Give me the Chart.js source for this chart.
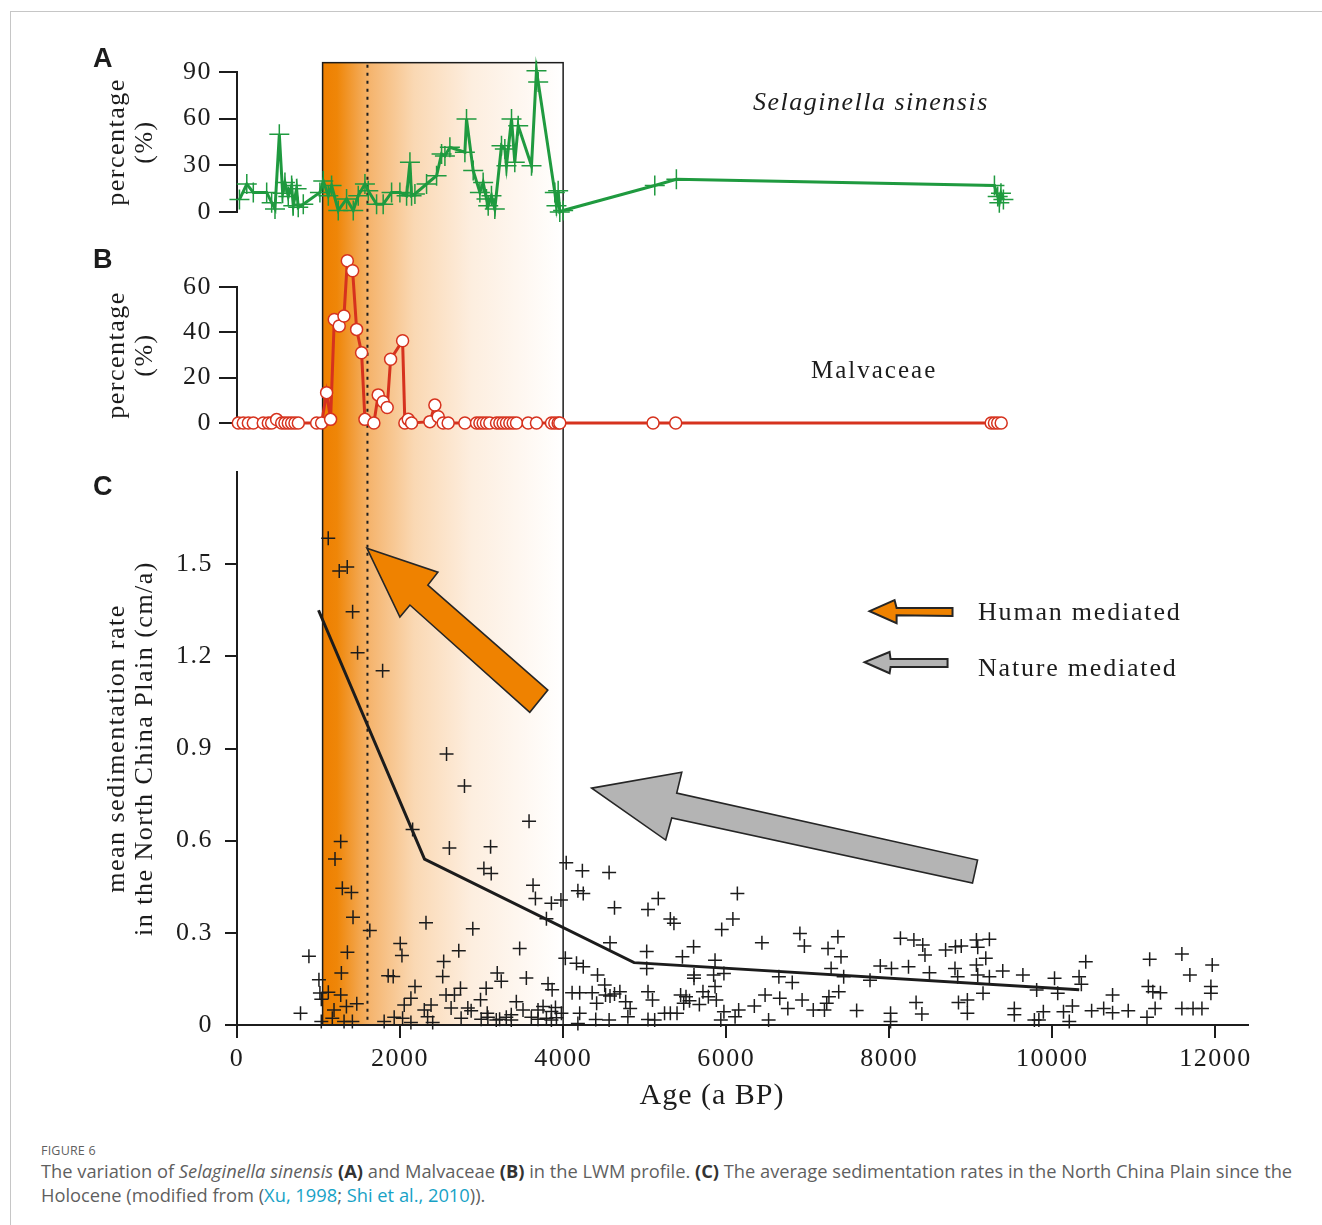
<!DOCTYPE html>
<html>
<head>
<meta charset="utf-8">
<script src="https://cdn.jsdelivr.net/npm/chart.js@4.4.1/dist/chart.umd.min.js"></script>
<style>
  html, body { margin: 0; padding: 0; background: #fff; }
  body { width: 1322px; height: 1225px; position: relative; overflow: hidden; }
  #frame { position: absolute; left: 10px; top: 11px; width: 1320px; height: 1220px;
           border-left: 1.5px solid #c6c6c6; border-top: 1.5px solid #c6c6c6; }
  #chart { position: absolute; left: 0; top: 0; }
  #caption { position: absolute; left: 41px; top: 1143px; font-family: "Open Sans", sans-serif;
             color: #5f5f5f; white-space: nowrap; }
  #caption .fig { font-size: 12.5px; letter-spacing: 0.2px; line-height: 16px; }
  #caption .txt { font-size: 18.3px; line-height: 24px; margin-top: 0px; }
  #caption b { color: #333; }
  #caption .ref { color: #17a2c6; }
</style>
</head>
<body>
<div id="frame"></div>
<canvas id="chart" width="1322" height="1125"></canvas>
<div id="caption">
  <div class="fig">FIGURE 6</div>
  <div class="txt">The variation of <i>Selaginella sinensis</i> <b>(A)</b> and Malvaceae <b>(B)</b> in the LWM profile. <b>(C)</b> The average sedimentation rates in the North China Plain since the<br>Holocene (modified from (<span class="ref">Xu, 1998</span>; <span class="ref">Shi et al., 2010</span>)).</div>
</div>
<script>
// --- tick labels ---
const xTicks = [0, 2000, 4000, 6000, 8000, 10000, 12000];
const yTicksA = [0, 30, 60, 90];
const yTicksB = [0, 20, 40, 60];
const yTicksC = [0, 0.3, 0.6, 0.9, 1.2, 1.5];

// --- A: Selaginella sinensis (%) ---
const selagAge = [30, 120, 200, 364, 425, 466, 519, 560, 588, 629, 670, 690, 731, 751, 813,
  1017, 1058, 1120, 1160, 1242, 1344, 1426, 1487, 1569, 1610, 1712, 1793, 1896, 1998, 2080,
  2121, 2141, 2182, 2325, 2448, 2509, 2550, 2611, 2795, 2815, 2897, 2979, 3019, 3060, 3081,
  3121, 3162, 3244, 3285, 3305, 3367, 3407, 3449, 3612, 3673, 3694, 3898, 3918, 3939, 3959,
  4000, 5124, 5389, 9290, 9330, 9350, 9370, 9400];
const selagPct = [8, 18, 12.6, 12.6, 6, 2, 50, 12, 19, 10, 17, 4, 15, 3, 5,
  12.6, 20, 10.5, 17, 1, 8.4, 1, 10.5, 18, 13.7, 5, 5, 12.6, 12.6, 10.5,
  32, 10.5, 11.6, 18, 23.3, 37.3, 36, 41.6, 38.4, 59.8, 26.6, 12.6, 19, 8.4, 4,
  10.5, 2, 42.6, 40.5, 29.8, 59.8, 32, 55.5, 29.8, 90.8, 83.6, 12.6, 4, 13.7, 0,
  1, 17, 21, 17, 10, 6, 12, 8];

// --- B: Malvaceae (%) ---
const malvAge = [16, 77, 139, 200, 322, 384, 425, 486, 548, 588, 629, 670, 711, 752, 977,
  1038, 1099, 1148, 1193, 1254, 1312, 1353, 1418, 1467, 1528, 1569, 1679, 1732, 1793, 1842,
  1884, 2031, 2059, 2100, 2141, 2366, 2427, 2468, 2529, 2590, 2795, 2938, 2979, 3019, 3060,
  3101, 3183, 3224, 3264, 3305, 3346, 3387, 3428, 3571, 3673, 3857, 3898, 3939, 3959, 5103,
  5381, 9250, 9290, 9330, 9373];
const malvPct = [0, 0, 0, 0, 0, 0, 0, 1.5, 0, 0, 0, 0, 0, 0, 0,
  0, 13.4, 1.6, 45.7, 42.8, 47.2, 71.6, 67.2, 41.3, 31, 1.6, 0, 12.4, 9.4, 6.8,
  28.1, 36.3, 0, 1.6, 0, 0.6, 7.9, 2.8, 0, 0, 0, 0, 0, 0, 0,
  0, 0, 0, 0, 0, 0, 0, 0, 0, 0, 0, 0, 0, 0, 0,
  0, 0, 0, 0, 0];

// --- C: mean sedimentation rate (cm/a) ---
const sedAge = [1119, 1254, 1352, 1418, 1479, 1786, 2570,
  2790, 2154, 1272, 1202, 2605, 3110, 3582, 3028, 3118, 1292, 1403, 3631, 3660, 3856, 3795,
  1423, 1629, 2318, 2892, 882, 1354, 2002, 2023, 2535, 2720, 3467, 1005, 1280, 1854, 1916,
  2523, 3192, 3241, 3549, 2183, 2741, 3056, 3815, 3865, 1017, 1120, 1272, 2133, 2564, 2667,
  2987, 3426, 1034, 1190, 1342, 1469, 2051, 2297, 2380, 2626, 2831, 2872, 3069, 3221, 3303,
  3364, 3508, 3610, 3692, 3754, 3795, 3856, 3906, 3979, 779, 1034, 1169, 1313, 1415, 1805,
  1928, 2031, 2133, 2338, 2400, 2749, 2995, 3077, 3180, 3364, 3692, 3856, 3918,
  4038, 4236, 4564, 4181, 4247, 3973, 4630, 5041, 5167, 5315, 5359, 6137, 6082, 5945, 4575,
  5025, 5025, 5600, 5463, 5863, 6438, 6904, 6959, 7249, 7370, 7408, 7287, 7441, 4027, 4164,
  4247, 4422, 4510, 5605, 5605, 5846, 5972, 5863, 6646, 6810, 7890, 8027, 8236, 7764, 8137,
  8302, 8411, 8438, 8691, 8812, 8883, 9069, 9085, 9228, 9184, 9069, 8493, 8806, 8839, 9085,
  9228, 9392, 9639, 10027, 10328, 10410, 10356, 9808, 10066, 9150, 11194, 11589, 11961, 11687,
  11178, 11233, 11326, 11945, 11945, 11261, 11589, 11726, 11835, 11161, 10739, 10482, 10630,
  10739, 10931, 10246, 10137, 10208, 9890, 9835, 9780, 9534, 9534, 8958, 8849, 8958, 8400,
  8329, 8016, 8016, 7600, 7380, 7260, 7233, 7205, 7068, 6931, 6756, 6657, 6477, 6345, 6520,
  6153, 6109, 5934, 5972, 5879, 5781, 5715, 5671, 5550, 5507, 5441, 5479, 5397, 5315, 5244,
  5123, 5041, 5096, 5041, 4822, 4767, 4696, 4630, 4575, 4520, 4411, 4356, 4203, 4110, 4203,
  4400, 4564, 4181, 4794];
const sedRate = [1.584, 1.478, 1.491, 1.345, 1.212, 1.153, 0.882,
  0.778, 0.636, 0.597, 0.540, 0.576, 0.580, 0.663, 0.509, 0.493, 0.445, 0.431, 0.455, 0.412, 0.396, 0.346,
  0.351, 0.308, 0.333, 0.313, 0.224, 0.237, 0.265, 0.226, 0.207, 0.242, 0.249, 0.147, 0.169, 0.160, 0.158,
  0.158, 0.169, 0.142, 0.153, 0.125, 0.120, 0.120, 0.134, 0.115, 0.104, 0.107, 0.098, 0.087, 0.098, 0.098,
  0.082, 0.076, 0.084, 0.049, 0.060, 0.069, 0.065, 0.049, 0.065, 0.055, 0.055, 0.046, 0.038, 0.019, 0.025,
  0.033, 0.049, 0.025, 0.049, 0.060, 0.022, 0.044, 0.057, 0.038, 0.038, 0.011, 0.022, 0.011, 0.011, 0.011,
  0.025, 0.022, 0.008, 0.027, 0.008, 0.022, 0.019, 0.025, 0.016, 0.016, 0.019, 0.016, 0.024,
  0.528, 0.502, 0.496, 0.437, 0.428, 0.407, 0.382, 0.376, 0.412, 0.345, 0.331, 0.428, 0.345, 0.311, 0.268,
  0.239, 0.184, 0.255, 0.222, 0.211, 0.268, 0.298, 0.257, 0.249, 0.287, 0.222, 0.184, 0.157, 0.217, 0.201,
  0.190, 0.163, 0.130, 0.163, 0.152, 0.163, 0.168, 0.125, 0.157, 0.138, 0.192, 0.184, 0.190, 0.146, 0.282,
  0.277, 0.260, 0.228, 0.244, 0.255, 0.257, 0.277, 0.253, 0.279, 0.217, 0.195, 0.170, 0.184, 0.157, 0.163,
  0.157, 0.176, 0.163, 0.152, 0.157, 0.206, 0.133, 0.114, 0.103, 0.103, 0.214, 0.231, 0.195, 0.163,
  0.125, 0.108, 0.105, 0.125, 0.103, 0.054, 0.054, 0.054, 0.054, 0.025, 0.098, 0.046, 0.054,
  0.040, 0.046, 0.062, 0.043, 0.011, 0.043, 0.016, 0.016, 0.054, 0.033, 0.038, 0.073, 0.081, 0.036,
  0.073, 0.038, 0.011, 0.047, 0.108, 0.092, 0.071, 0.049, 0.049, 0.081, 0.054, 0.087, 0.098, 0.062, 0.016,
  0.049, 0.027, 0.016, 0.043, 0.081, 0.092, 0.108, 0.067, 0.079, 0.092, 0.098, 0.071, 0.038, 0.038, 0.038,
  0.016, 0.018, 0.081, 0.108, 0.054, 0.076, 0.108, 0.101, 0.094, 0.098, 0.071, 0.105, 0.105, 0.105, 0.038,
  0.018, 0.016, 0.005, 0.027];

// trend line through panel C
const trendAge = [1000, 2300, 4870, 10330];
const trendRate = [1.35, 0.54, 0.203, 0.115];

// shaded period and dotted marker (ages, a BP)
const bandAge = [1050, 4000];
const bandTopPct = 96;      // top of the box, in panel A units
const dottedAge = 1600;

// arrows, in (age, rate) units of panel C
const humanArrow = [[1593, 1.552], [2464, 1.474], [2341, 1.432], [3812, 1.090], [3591, 1.018], [2121, 1.367], [1998, 1.328]];
const natureArrow = [[4351, 0.771], [5455, 0.823], [5393, 0.755], [9083, 0.537], [9021, 0.462], [5332, 0.674], [5258, 0.602]];
const humanKey = [[7759, 1.347], [8065, 1.383], [8090, 1.357], [8776, 1.357], [8776, 1.331], [8090, 1.334], [8090, 1.308]];
const natureKey = [[7698, 1.181], [8004, 1.214], [8016, 1.191], [8715, 1.191], [8715, 1.165], [8016, 1.165], [8004, 1.145]];

const SERIF = '"Liberation Serif", "DejaVu Serif", serif';
const INK = '#1c1c1c';
const GREEN = '#1f9a3f';
const RED = '#d6321e';
const ORANGE = '#ef8200';

const pts = (xs, ys) => xs.map((v, i) => ({ x: v, y: ys[i] }));
const fixTicks = arr => s => { s.ticks = arr.map(v => ({ value: v })); };

function yAxis(ticks, title, tickLen, pad, fmt) {
  return {
    type: 'linear', position: 'left', stack: 'left',
    min: ticks[0], max: ticks === yTicksC ? 1.8 : ticks[ticks.length - 1],
    afterBuildTicks: fixTicks(ticks),
    afterFit: s => { s.width = 147; },
    border: { color: INK, width: 2 },
    grid: { drawOnChartArea: false, drawTicks: true, tickLength: tickLen, color: INK, lineWidth: 2 },
    ticks: { color: INK, padding: pad, font: { family: SERIF, size: 26 }, callback: fmt },
    title: { display: true, text: title, color: INK, padding: { top: 13, bottom: 0 },
             font: { family: SERIF, size: 26, lineHeight: 1.08 } }
  };
}

function polygon(chart, list, fill, lw) {
  const { ctx, scales: { x, yC } } = chart;
  ctx.beginPath();
  list.forEach(([a, r], i) => {
    const px = x.getPixelForValue(a), py = yC.getPixelForValue(r);
    if (i) ctx.lineTo(px, py); else ctx.moveTo(px, py);
  });
  ctx.closePath();
  ctx.fillStyle = fill;
  ctx.fill();
  ctx.lineWidth = lw;
  ctx.strokeStyle = '#262626';
  ctx.lineJoin = 'miter';
  ctx.stroke();
}

function label(ctx, text, x, y, font, spacing, align) {
  ctx.font = font;
  ctx.letterSpacing = spacing;
  ctx.textAlign = align || 'left';
  ctx.textBaseline = 'alphabetic';
  ctx.fillStyle = INK;
  ctx.fillText(text, x, y);
}

const decor = {
  id: 'decor',
  afterLayout(chart) {
    // put the three stacked value axes at their own panel heights
    const place = (s, top, bottom) => {
      s.top = top; s.bottom = bottom; s.height = bottom - top;
      s.configure();
      s._labelItems = null; s._gridLineItems = null;
    };
    place(chart.scales.yA, 72, 212);
    place(chart.scales.yB, 287, 423);
    place(chart.scales.yC, 472, 1025);
  },
  beforeDraw(chart) {
    chart.ctx.letterSpacing = '1.5px';
  },
  beforeDatasetsDraw(chart) {
    const { ctx, scales: { x, yA, yC } } = chart;
    const l = x.getPixelForValue(bandAge[0]), r = x.getPixelForValue(bandAge[1]);
    const t = yA.getPixelForValue(bandTopPct), b = yC.getPixelForValue(0);
    const g = ctx.createLinearGradient(l, 0, r, 0);
    g.addColorStop(0, '#ee7f00');
    g.addColorStop(0.06, '#ef8608');
    g.addColorStop(0.2, '#f5b56f');
    g.addColorStop(0.38, '#fad8b3');
    g.addColorStop(0.62, '#fdeedf');
    g.addColorStop(1, '#ffffff');
    ctx.save();
    ctx.fillStyle = g;
    ctx.fillRect(l, t, r - l, b - t - 1);
    ctx.strokeStyle = INK;
    ctx.lineWidth = 1.5;
    ctx.strokeRect(l, t, r - l, b - t);
    const dx = x.getPixelForValue(dottedAge);
    ctx.setLineDash([3, 5]);
    ctx.lineWidth = 2;
    ctx.beginPath();
    ctx.moveTo(dx, t + 2);
    ctx.lineTo(dx, b);
    ctx.stroke();
    ctx.restore();
  },
  afterDatasetsDraw(chart) {
    const ctx = chart.ctx;
    ctx.save();
    polygon(chart, humanArrow, ORANGE, 1.6);
    polygon(chart, natureArrow, '#b4b4b4', 1.6);
    polygon(chart, humanKey, ORANGE, 2);
    polygon(chart, natureKey, '#b4b4b4', 2);
    ctx.restore();
  },
  afterDraw(chart) {
    const ctx = chart.ctx;
    ctx.save();
    label(ctx, 'A', 93, 67, 'bold 27px "Liberation Sans", Arial, sans-serif', '0px');
    label(ctx, 'B', 93, 268, 'bold 27px "Liberation Sans", Arial, sans-serif', '0px');
    label(ctx, 'C', 93, 495, 'bold 27px "Liberation Sans", Arial, sans-serif', '0px');
    label(ctx, 'Selaginella sinensis', 753, 110, 'italic 26px ' + SERIF, '1.5px');
    label(ctx, 'Malvaceae', 811, 378, '25px ' + SERIF, '2px');
    label(ctx, 'Human mediated', 978, 620, '26px ' + SERIF, '1.8px');
    label(ctx, 'Nature mediated', 978, 676, '26px ' + SERIF, '1.8px');
    label(ctx, 'Age (a BP)', 712, 1104, '30px ' + SERIF, '1px', 'center');
    ctx.restore();
  }
};

new Chart(document.getElementById('chart'), {
  type: 'scatter',
  data: {
    datasets: [
      { label: 'Selaginella sinensis', data: pts(selagAge, selagPct), yAxisID: 'yA', showLine: true,
        borderColor: GREEN, borderWidth: 3, pointStyle: 'cross', pointRadius: 10,
        pointBorderColor: GREEN, pointBorderWidth: 1.5, clip: false },
      { label: 'Malvaceae', data: pts(malvAge, malvPct), yAxisID: 'yB', showLine: true,
        borderColor: RED, borderWidth: 3, pointStyle: 'circle', pointRadius: 6,
        pointBackgroundColor: '#ffffff', pointBorderColor: RED, pointBorderWidth: 1.5, clip: false },
      { label: 'trend', data: pts(trendAge, trendRate), yAxisID: 'yC', showLine: true,
        borderColor: INK, borderWidth: 3, pointRadius: 0, clip: false },
      { label: 'sedimentation rate', data: pts(sedAge, sedRate), yAxisID: 'yC',
        pointStyle: 'cross', pointRadius: 7, pointBorderColor: INK, pointBorderWidth: 1.5, clip: false }
    ]
  },
  options: {
    responsive: false,
    animation: false,
    layout: { padding: { left: 90, right: 74, top: 40, bottom: 40 } },
    plugins: { legend: { display: false }, tooltip: { enabled: false } },
    scales: {
      x: {
        type: 'linear', min: 0, max: 12400,
        afterBuildTicks: fixTicks(xTicks),
        afterFit: s => { s.height = 60; },
        border: { color: INK, width: 2 },
        grid: { drawOnChartArea: false, drawTicks: true, tickLength: 13, color: INK, lineWidth: 2 },
        ticks: { color: INK, padding: 6, maxRotation: 0, autoSkip: false,
                 font: { family: SERIF, size: 26 }, callback: v => String(v) }
      },
      yA: yAxis(yTicksA, ['percentage', '(%)'], 18, 7, v => String(v)),
      yB: yAxis(yTicksB, ['percentage', '(%)'], 18, 7, v => String(v)),
      yC: yAxis(yTicksC, ['mean sedimentation rate', 'in the North China Plain (cm/a)'], 12, 12,
                v => (v === 0 ? '0' : v.toFixed(1)))
    }
  },
  plugins: [decor]
});
</script>
</body>
</html>
